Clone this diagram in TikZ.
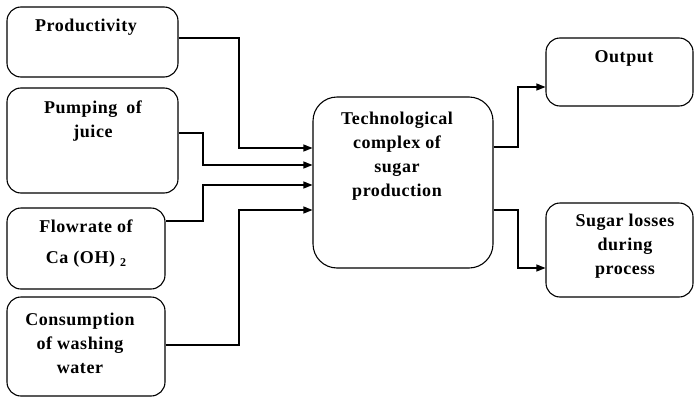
\documentclass[tikz,border=0pt]{standalone}
\usepackage{fontspec}
\setmainfont{Liberation Serif}[LetterSpace=3]
\usetikzlibrary{arrows.meta}
\begin{document}
\begin{tikzpicture}[x=1pt,y=-1pt,
  box/.style={draw, line width=1.1pt, rounded corners=14pt, inner sep=0pt},
  txt/.style={font=\fontsize{18}{24}\selectfont\bfseries, align=center, inner sep=0pt},
  flow/.style={line width=1.1pt, -{Triangle[length=9pt,width=7pt]}}]
\useasboundingbox (0,0) rectangle (696,399);

% input boxes
\node[box, minimum width=171pt, minimum height=70pt]  (b1) at (92.5,42) {};
\node[box, minimum width=171pt, minimum height=105pt] (b2) at (92.5,140.5) {};
\node[box, minimum width=158pt, minimum height=81pt]  (b3) at (86,248.5) {};
\node[box, minimum width=158pt, minimum height=99pt]  (b4) at (86,346.5) {};
% process box
\node[box, rounded corners=24pt, minimum width=180pt, minimum height=171pt] (ctr) at (403,182.5) {};
% output boxes
\node[box, minimum width=147pt, minimum height=68pt] (out) at (619.5,72) {};
\node[box, minimum width=147pt, minimum height=94pt] (loss) at (619.5,250) {};

% labels
\node[txt] (t1) at (86,27) {Productivity};
\node[txt] (t2) at (93,121) {Pumping\enspace of\\juice};
\node[txt, font=\fontsize{18}{31}\selectfont\bfseries] (t3) at (86,244) {Flowrate of\\Ca (OH) \raisebox{-3pt}{\fontsize{12}{12}\selectfont 2}};
\node[txt] (t4) at (80,343) {Consumption\\of washing\\water};
\node[txt] (tc) at (397,156) {Technological\\complex of\\sugar\\production};
\node[txt] (to) at (624,58) {Output};
\node[txt] (tl) at (625,246) {Sugar losses\\during\\process};

% ports on the box edges
\coordinate (p1) at ([yshift=4pt]b1.east);
\coordinate (p2) at ([yshift=7.5pt]b2.east);
\coordinate (p3) at ([yshift=27.5pt]b3.east);
\coordinate (p4) at ([yshift=1.5pt]b4.east);
\coordinate (i1) at ([yshift=34.5pt]ctr.west);
\coordinate (i2) at ([yshift=17.5pt]ctr.west);
\coordinate (i3) at ([yshift=-2.5pt]ctr.west);
\coordinate (i4) at ([yshift=-27.5pt]ctr.west);
\coordinate (o1) at ([yshift=35.5pt]ctr.east);
\coordinate (o2) at ([yshift=-27.5pt]ctr.east);
\coordinate (e1) at ([yshift=-15pt]out.west);
\coordinate (e2) at ([yshift=-18pt]loss.west);

% routing columns
\coordinate (ja) at (239,0);
\coordinate (jb) at (203,0);
\coordinate (jc) at (518,0);

% connectors into the process
\draw[flow] (p1) -| (ja |- i1) -- (i1);
\draw[flow] (p2) -| (jb |- i2) -- (i2);
\draw[flow] (p3) -| (jb |- i3) -- (i3);
\draw[flow] (p4) -| (ja |- i4) -- (i4);

% connectors out of the process
\draw[flow] (o1) -| (jc |- e1) -- (e1);
\draw[flow] (o2) -| (jc |- e2) -- (e2);
\end{tikzpicture}
\end{document}
